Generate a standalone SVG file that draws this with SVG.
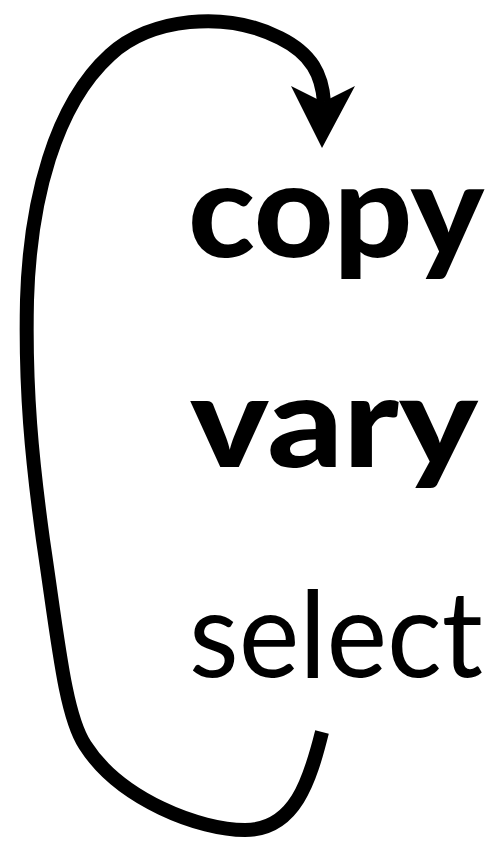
<svg xmlns="http://www.w3.org/2000/svg" width="496" height="841" viewBox="0 0 496 841">
<style>
.w{font-family:Lato,"Open Sans","Liberation Sans",sans-serif;fill:#000}
.b{font-weight:900}
.c{fill:none;stroke:#000;stroke-width:14;stroke-linecap:butt;stroke-linejoin:round}
</style>
<rect width="496" height="841" fill="#fff"/>
<g id="connectors">
<path class="c" d="M 322,732 C 310,780 295,830 245,830 C 200,830 120,800 85,745 C 65,715 58,640 43,540 C 32,460 25,390 27,300 C 30,200 55,105 110,55 C 150,18 225,10 280,38 C 312,54 322,75 324,102"/>
<polygon points="291,86 323,102 355,86 322,148" fill="#000"/>
</g>
<g id="copy"><text class="w b" x="188" y="257" font-size="132" textLength="296" lengthAdjust="spacingAndGlyphs">copy</text></g>
<g id="vary"><text class="w b" x="190" y="467" font-size="128" textLength="288" lengthAdjust="spacingAndGlyphs">vary</text></g>
<g id="select"><text class="w" x="189" y="677" font-size="120" textLength="294" lengthAdjust="spacingAndGlyphs">select</text></g>
</svg>
